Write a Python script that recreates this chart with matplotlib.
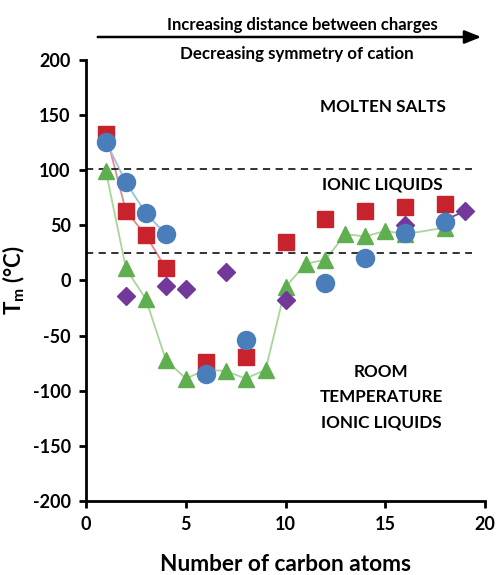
import matplotlib
matplotlib.use("Agg")
from matplotlib import pyplot as plt

plt.rcParams['font.family'] = ['Lato', 'DejaVu Sans']
plt.rcParams['font.weight'] = 'bold'
plt.rcParams['axes.unicode_minus'] = False

# data
red_x = [1, 2, 3, 4, 6, 8, 10, 12, 14, 16, 18]
red_y = [133, 63, 41, 11, -74, -69, 35, 56, 63, 67, 69]

blue_x = [1, 2, 3, 4, 6, 8, 12, 14, 16, 18]
blue_y = [126, 89, 61, 42, -85, -54, -2, 20, 43, 53]

green_x = [1, 2, 3, 4, 5, 6, 7, 8, 9, 10, 11, 12, 13, 14, 15, 16, 18]
green_y = [99, 11, -17, -72, -89, -81, -82, -89, -81, -6, 15, 19, 42, 40, 45, 42, 48]

purple_x = [2, 4, 5, 7, 10, 16, 18, 19]
purple_y = [-14, -5, -8, 8, -18, 50, 55, 63]

boundaries = [101, 25]

fig = plt.figure(figsize=(4.96, 5.75), dpi=100)
ax = fig.add_axes([0.1734, 0.1287, 0.8046, 0.767])

# connecting lines
ax.plot(green_x, green_y, color='#a9d59a', lw=1.3, zorder=1)
ax.plot(red_x[:4], red_y[:4], color='#e58a8c', lw=1.3, zorder=1)
ax.plot(blue_x[:4], blue_y[:4], color='#9dbfe3', lw=1.3, zorder=1)
ax.plot(purple_x[-2:], purple_y[-2:], color='#7b3f98', lw=1.3, zorder=1)

ax.plot(green_x, green_y, '^', color='#5fae4f', ms=12, zorder=3)
ax.plot(red_x, red_y, 's', color='#c8232c', ms=11, zorder=4)
ax.plot(purple_x, purple_y, 'D', color='#73399a', ms=9, zorder=5)
ax.plot(blue_x, blue_y, 'o', color='#4a7ebb', ms=13, zorder=6)

for b in boundaries:
    ax.plot([0, 19.35], [b, b], color='#222222', ls=(0, (4, 3)), lw=1.3, zorder=2)

ax.text(14.9, 157, 'MOLTEN SALTS', ha='center', va='center', fontsize=12.3)
ax.text(14.85, 87, 'IONIC LIQUIDS', ha='center', va='center', fontsize=12.3)
ax.text(14.8, -106, 'ROOM\nTEMPERATURE\nIONIC LIQUIDS', ha='center', va='center',
        fontsize=12.3, linespacing=1.7)

ax.set_xlim(0, 20)
ax.set_ylim(-200, 200)
ax.set_xticks([0, 5, 10, 15, 20])
ax.set_yticks(range(-200, 201, 50))
ax.spines['top'].set_visible(False)
ax.spines['right'].set_visible(False)
ax.spines['left'].set_linewidth(2)
ax.spines['bottom'].set_linewidth(2)
ax.tick_params(width=2, length=5, labelsize=13, pad=6)
for lab in ax.get_xticklabels() + ax.get_yticklabels():
    lab.set_fontweight('bold')

ax.set_xlabel('Number of carbon atoms', fontsize=16.3, fontweight='bold', labelpad=15)
ax.set_ylabel('T$_\\mathregular{m}$ (°C)', fontsize=16, fontweight='bold', labelpad=4)

# arrow at top
ax.annotate('', xy=(484 / 496, 1 - 37 / 575), xytext=(95 / 496, 1 - 37 / 575),
            xycoords='figure fraction', textcoords='figure fraction',
            arrowprops=dict(arrowstyle='-|>,head_length=1.0,head_width=0.4',
                            color='black', lw=1.8))
fig.text(302 / 496, 1 - 25 / 575, 'Increasing distance between charges',
         ha='center', va='center', fontsize=12)
fig.text(297 / 496, 1 - 54 / 575, 'Decreasing symmetry of cation',
         ha='center', va='center', fontsize=12.2)

fig.savefig('out.png', dpi=100)
